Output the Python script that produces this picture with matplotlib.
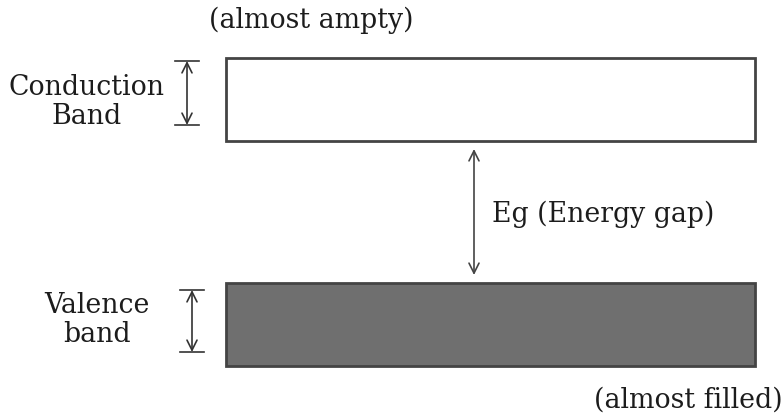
import matplotlib
matplotlib.use("Agg")
import matplotlib.pyplot as plt
from matplotlib.patches import Rectangle

band_names = ["Conduction\nBand", "Valence\nband"]
band_notes = ["(almost ampty)", "(almost filled)"]
band_fills = ["white", "#6f6f6f"]
gap_label = "Eg (Energy gap)"

fig = plt.figure(figsize=(7.84, 4.13), dpi=100)
ax = fig.add_axes([0, 0, 1, 1])
ax.set_xlim(0, 784)
ax.set_ylim(413, 0)
ax.axis("off")

font = dict(family="DejaVu Serif", size=19.3, color="#1c1c1c")

# bands: (top, bottom)
bands = [(58, 141), (283, 366)]
x0, x1 = 226, 755
for (top, bot), fc in zip(bands, band_fills):
    ax.add_patch(Rectangle((x0, top), x1 - x0, bot - top, facecolor=fc,
                           edgecolor="#444444", linewidth=2))

def dim_arrow(x, y0, y1):
    ax.annotate("", xy=(x, y0), xytext=(x, y1),
                arrowprops=dict(arrowstyle="<->", color="#333333", lw=1.2,
                                mutation_scale=18, shrinkA=0, shrinkB=0))
    for y in (y0, y1):
        ax.plot([x - 12, x + 12], [y, y], color="#333333", lw=1.2)

dim_arrow(187, 61, 125)
dim_arrow(192, 290, 352)

# gap arrow
ax.annotate("", xy=(474, 149), xytext=(474, 275),
            arrowprops=dict(arrowstyle="<->", color="#444444", lw=1.2,
                            mutation_scale=18, shrinkA=0, shrinkB=0))

ax.text(87, 102, band_names[0], ha="center", va="center", linespacing=1.05, **font)
ax.text(97, 320, band_names[1], ha="center", va="center", linespacing=1.05, **font)
ax.text(311, 20, band_notes[0], ha="center", va="center", **font)
ax.text(783, 400, band_notes[1], ha="right", va="center", **font)
ax.text(492, 214, gap_label, ha="left", va="center", **font)

fig.savefig("out.png", dpi=100, facecolor="white")
